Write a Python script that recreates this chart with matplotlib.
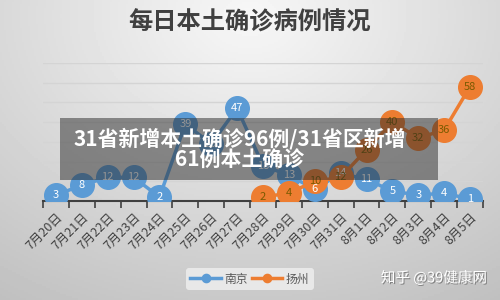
import numpy as np
import matplotlib
matplotlib.use("Agg")
import matplotlib.pyplot as plt
from matplotlib.patches import Rectangle
import matplotlib.patheffects as pe

plt.rcParams['font.family'] = ['Noto Sans CJK SC', 'DejaVu Sans']

# 날짜 (7/20 ~ 8/5)
dates = ["7月20日", "7月21日", "7月22日", "7月23日", "7月24日", "7月25日", "7月26日",
         "7月27日", "7月28日", "7月29日", "7月30日", "7月31日", "8月1日", "8月2日",
         "8月3日", "8月4日", "8月5日"]
# 南京
nanjing = [3, 8, 12, 12, 2, 39, 29, 47, 18, 13, 6, 14, 11, 5, 3, 4, 1]
# 扬州 (7/28 부터)
yangzhou_dates = dates[8:]
yangzhou = [2, 4, 10, 12, 26, 40, 32, 36, 58]

blue = "#5b9bd5"
orange = "#ed7d31"

fig = plt.figure(figsize=(5, 3), dpi=100)

# 배경 그라데이션
bg = fig.add_axes([0, 0, 1, 1], zorder=-10)
gx, gy = np.meshgrid(np.linspace(0, 1, 250), np.linspace(0, 1, 150))
dist = np.sqrt(((gx - 0.5) * 1.0) ** 2 + ((gy - 0.05) * 0.8) ** 2)
shade = 0.97 - 0.24 * dist
bg.imshow(shade, cmap="gray", vmin=0, vmax=1, aspect="auto", extent=[0, 1, 0, 1], origin="upper")
bg.set_xlim(0, 1)
bg.set_ylim(0, 1)
bg.axis("off")

ax = fig.add_axes([0.086, 0.33, 0.88, 0.46])
ax.set_facecolor("none")

x = np.arange(len(dates))
xy = np.array([dates.index(d) for d in yangzhou_dates])

ax.plot(x, nanjing, color=blue, lw=2.5, marker="o", ms=17, mfc=blue, mec=blue, label="南京", zorder=3)
ax.plot(xy, yangzhou, color=orange, lw=2.5, marker="o", ms=17, mfc=orange, mec=orange, label="扬州", zorder=4)

for i, v in zip(x, nanjing):
    ax.text(i, v, str(v), ha="center", va="center", fontsize=8, color="white", zorder=5)
for i, v in zip(xy, yangzhou):
    ax.text(i, v, str(v), ha="center", va="center", fontsize=8, color="#7a5a00", zorder=5)

ax.set_xlim(-0.5, len(dates) - 0.5)
ax.set_ylim(0, 70)
ax.set_yticks(np.arange(10, 71, 10))
ax.yaxis.grid(True, color="#d4d4d4", lw=1)
ax.tick_params(axis="y", length=0, labelleft=False)
ax.set_axisbelow(True)

ax.set_xticks(x)
ax.set_xticklabels(dates, rotation=45, ha="right", rotation_mode="anchor", fontsize=9, color="#404040")
ax.tick_params(axis="x", which="major", length=0, pad=7)
ax.set_xticks(np.arange(-0.5, len(dates), 1), minor=True)
ax.tick_params(axis="x", which="minor", length=5, width=1.2, color="#404040", direction="out")

for s in ["top", "right", "left"]:
    ax.spines[s].set_visible(False)
ax.spines["bottom"].set_color("#404040")
ax.spines["bottom"].set_linewidth(1.5)

fig.text(0.5, 0.925, "每日本土确诊病例情况", ha="center", va="center", fontsize=17.5,
         fontweight="bold", color="#404040")

leg = fig.legend(loc="center", bbox_to_anchor=(0.5, 0.07), ncol=2, frameon=True, fontsize=8.5,
                 handlelength=2.6, columnspacing=0.3, handletextpad=0.3, borderpad=0.35,
                 markerscale=0.35)
leg.get_frame().set_facecolor("#ececec")
leg.get_frame().set_edgecolor("none")
leg.get_frame().set_alpha(0.9)
for t in leg.get_texts():
    t.set_color("#595959")

# 배너 오버레이
fig.patches.append(Rectangle((0.12, 0.40), 0.756, 0.207, transform=fig.transFigure,
                             facecolor="#2a2a2a", alpha=0.5, edgecolor="none", zorder=20))
fig.text(0.479, 0.503, "31省新增本土确诊96例/31省区新增\n61例本土确诊", ha="center", va="center",
         fontsize=15, fontweight="bold", color="white", linespacing=1.05, zorder=21)

# 워터마크
fig.text(0.868, 0.073, "知乎 @39健康网", ha="center", va="center", fontsize=10.5, color="white",
         zorder=21, path_effects=[pe.withSimplePatchShadow(offset=(0.8, -0.8), shadow_rgbFace="#555555", alpha=0.6)])

fig.savefig("out.png", dpi=100)
